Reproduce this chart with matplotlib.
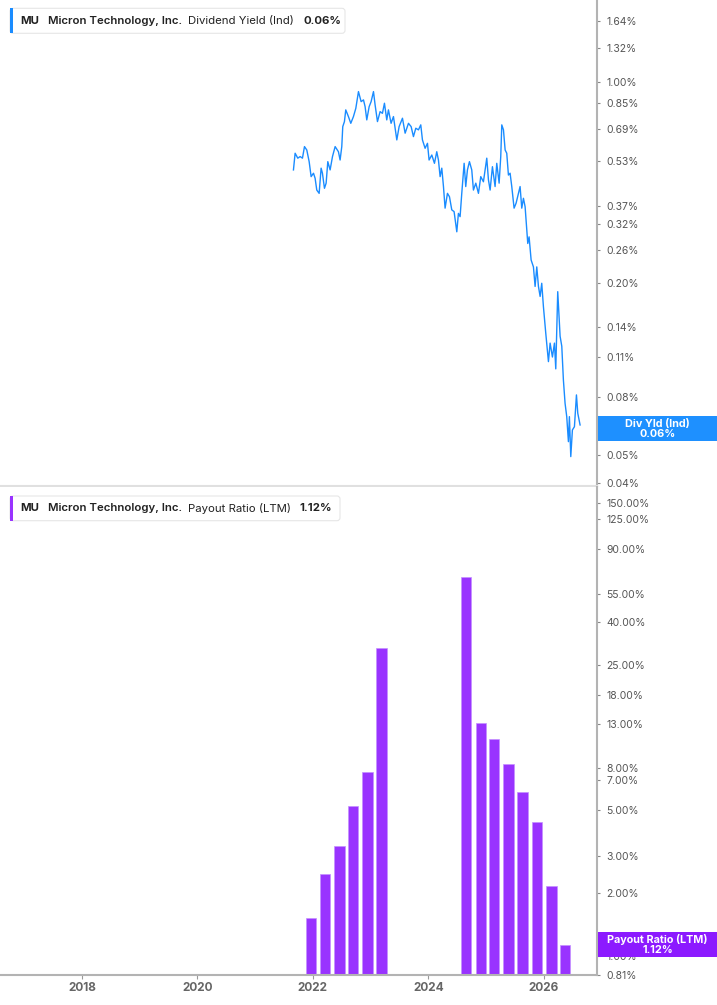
import matplotlib.pyplot as plt
from matplotlib.patches import Rectangle, FancyBboxPatch
from matplotlib.transforms import IdentityTransform
from matplotlib.ticker import NullLocator

plt.rcParams['font.family'] = ['Inter', 'DejaVu Sans']

# 配当利回り (年, %)
yld_t = [2021.665, 2021.694, 2021.740, 2021.781, 2021.821, 2021.856, 2021.896, 2021.937, 2021.971, 2022.012,
         2022.040, 2022.069, 2022.110, 2022.144, 2022.167, 2022.202, 2022.231, 2022.260, 2022.300, 2022.341,
         2022.387, 2022.444, 2022.473, 2022.502, 2022.519, 2022.548, 2022.571, 2022.617, 2022.658, 2022.704,
         2022.745, 2022.791, 2022.837, 2022.878, 2022.906, 2022.935, 2022.976, 2023.010, 2023.051, 2023.079,
         2023.120, 2023.166, 2023.206, 2023.241, 2023.281, 2023.310, 2023.356, 2023.397, 2023.455, 2023.495,
         2023.553, 2023.599, 2023.657, 2023.703, 2023.743, 2023.784, 2023.830, 2023.870, 2023.899, 2023.945,
         2023.986, 2024.014, 2024.061, 2024.107, 2024.147, 2024.176, 2024.205, 2024.234, 2024.263, 2024.291,
         2024.332, 2024.367, 2024.407, 2024.447, 2024.494, 2024.522, 2024.551, 2024.580, 2024.621, 2024.649,
         2024.678, 2024.713, 2024.753, 2024.782, 2024.823, 2024.869, 2024.909, 2024.955, 2025.013, 2025.042,
         2025.071, 2025.111, 2025.157, 2025.186, 2025.227, 2025.255, 2025.273, 2025.302, 2025.331, 2025.359,
         2025.388, 2025.417, 2025.446, 2025.486, 2025.521, 2025.561, 2025.590, 2025.619, 2025.648, 2025.677,
         2025.723, 2025.746, 2025.781, 2025.821, 2025.850, 2025.879, 2025.908, 2025.937, 2025.965, 2025.994,
         2026.035, 2026.081, 2026.110, 2026.150, 2026.185, 2026.208, 2026.242, 2026.283, 2026.312, 2026.340,
         2026.369, 2026.398, 2026.427, 2026.444, 2026.468, 2026.496, 2026.531, 2026.566, 2026.589, 2026.629]
yld_v = [0.495, 0.566, 0.544, 0.551, 0.544, 0.597, 0.581, 0.529, 0.469, 0.482,
         0.463, 0.421, 0.410, 0.502, 0.482, 0.427, 0.445, 0.529, 0.495, 0.551,
         0.597, 0.573, 0.536, 0.597, 0.701, 0.730, 0.802, 0.760, 0.720, 0.760,
         0.812, 0.929, 0.857, 0.869, 0.823, 0.740, 0.823, 0.857, 0.929, 0.835,
         0.730, 0.791, 0.780, 0.846, 0.740, 0.802, 0.720, 0.760, 0.630, 0.701,
         0.750, 0.665, 0.720, 0.701, 0.647, 0.692, 0.683, 0.711, 0.630, 0.589,
         0.613, 0.536, 0.558, 0.522, 0.573, 0.536, 0.469, 0.502, 0.433, 0.364,
         0.410, 0.399, 0.359, 0.354, 0.301, 0.349, 0.340, 0.410, 0.522, 0.433,
         0.495, 0.529, 0.495, 0.421, 0.445, 0.410, 0.469, 0.450, 0.544, 0.457,
         0.421, 0.508, 0.433, 0.522, 0.445, 0.551, 0.711, 0.683, 0.581, 0.566,
         0.475, 0.482, 0.433, 0.364, 0.379, 0.410, 0.433, 0.364, 0.394, 0.368,
         0.274, 0.289, 0.240, 0.227, 0.194, 0.227, 0.194, 0.179, 0.199, 0.165,
         0.133, 0.106, 0.123, 0.110, 0.123, 0.100, 0.186, 0.130, 0.120, 0.0915,
         0.0758, 0.0681, 0.0557, 0.0681, 0.0494, 0.0612, 0.0628, 0.0811, 0.0700, 0.0637]

# 配当性向 (LTM, %)
pay_t = [2021.97, 2022.21, 2022.46, 2022.70, 2022.95, 2023.19,
         2024.65, 2024.91, 2025.14, 2025.39, 2025.63, 2025.88, 2026.13, 2026.37]
pay_v = [1.52, 2.48, 3.36, 5.27, 7.66, 30.2,
         65.8, 13.2, 11.0, 8.31, 6.09, 4.38, 2.17, 1.12]

yld_ticks = [1.64, 1.32, 1.00, 0.85, 0.69, 0.53, 0.37, 0.32, 0.26, 0.20, 0.14, 0.11, 0.08, 0.05, 0.04]
pay_ticks = [150, 125, 90, 55, 40, 25, 18, 13, 8, 7, 5, 3, 2, 1, 0.81]
year_ticks = [2018, 2020, 2022, 2024, 2026]

W, H = 717, 1005
BLUE = '#1a8cff'
PURPLE = '#9933ff'
AXIS_GRAY = '#b3b3b3'

fig = plt.figure(figsize=(W / 100, H / 100), dpi=100)
px = IdentityTransform()


def box(x0, y0, x1, y1, **kw):
    # ピクセル座標(上から)で矩形
    return Rectangle((x0, H - y1), x1 - x0, y1 - y0, transform=px, **kw)


def setupAxis(ax, ticks, fmt):
    ax.set_yscale('log')
    ax.yaxis.tick_right()
    ax.set_yticks(ticks)
    ax.set_yticklabels([fmt % t for t in ticks])
    ax.yaxis.set_minor_locator(NullLocator())
    ax.tick_params(axis='y', length=2.5, width=0.8, color='#888888',
                   labelsize=7.5, labelcolor='#555555', pad=4)
    ax.set_xlim(2016.583, 2026.922)
    for side in ['top', 'left']:
        ax.spines[side].set_visible(False)
    ax.spines['right'].set_color(AXIS_GRAY)
    ax.spines['right'].set_linewidth(1.5)


# 上段: 配当利回り
ax1 = fig.add_axes([0, 1 - 486 / H, 597 / W, 486 / H])
ax1.plot(yld_t, yld_v, color=BLUE, lw=1.0)
setupAxis(ax1, yld_ticks, '%.2f%%')
ax1.set_ylim(0.0390, 1.94)
ax1.set_xticks([])
ax1.spines['bottom'].set_color('#e0e0e0')
ax1.spines['bottom'].set_linewidth(1.5)

# 下段: 配当性向
ax2 = fig.add_axes([0, 1 - 974.7 / H, 597 / W, (974.7 - 487) / H])
setupAxis(ax2, pay_ticks, '%.2f%%')
ax2.bar(pay_t, pay_v, width=0.182, color=PURPLE, edgecolor='#c490ff', linewidth=0.5)
ax2.set_ylim(0.81, 179)
ax2.set_xlim(2016.583, 2026.922)
ax2.set_xticks(year_ticks)
ax2.set_xticklabels([str(y) for y in year_ticks], fontweight='bold')
ax2.tick_params(axis='x', direction='out', length=3, width=0.8, color='#999999',
                labelsize=8.5, labelcolor='#666666', pad=2)
ax2.spines['bottom'].set_color(AXIS_GRAY)
ax2.spines['bottom'].set_linewidth(1.5)


# 凡例ボックス
def legendBox(y0, y1, x1, color, metric, value, value_x):
    fig.add_artist(FancyBboxPatch((10, H - y1), x1 - 10, y1 - y0, transform=px,
                                  boxstyle='round,pad=0,rounding_size=3',
                                  facecolor='white', edgecolor='#e6e6e6', lw=0.8, zorder=5))
    fig.add_artist(box(10, y0, 13, y1, facecolor=color, edgecolor='none', zorder=6))
    yc = H - (y0 + y1) / 2
    kw = dict(transform=px, va='center', ha='left', fontsize=8.2, color='#222222', zorder=7)
    fig.text(20.7, yc, 'MU', fontweight='bold', **kw)
    fig.text(47.7, yc, 'Micron Technology, Inc.', fontweight='semibold', **kw)
    fig.text(188.3, yc, metric, **kw)
    fig.text(value_x, yc, value, fontweight='bold', **kw)


legendBox(8.3, 33.3, 345, BLUE, 'Dividend Yield (Ind)', '0.06%', 303.3)
legendBox(496, 520.7, 340, PURPLE, 'Payout Ratio (LTM)', '1.12%', 299)


# 右側の現在値ラベル
def valueTag(y0, y1, color, name, value):
    fig.add_artist(box(597.5, y0, 717, y1, facecolor=color, edgecolor='none', zorder=5))
    kw = dict(transform=px, ha='center', va='center', fontsize=7.8,
              fontweight='bold', color='white', zorder=6)
    fig.text(657.5, H - (y0 + 7.8), name, **kw)
    fig.text(657.5, H - (y0 + 18.3), value, **kw)


valueTag(416, 441, '#1e90ff', 'Div Yld (Ind)', '0.06%')
valueTag(932, 957, '#8c1aff', 'Payout Ratio (LTM)', '1.12%')

fig.savefig('out.png', dpi=100)
